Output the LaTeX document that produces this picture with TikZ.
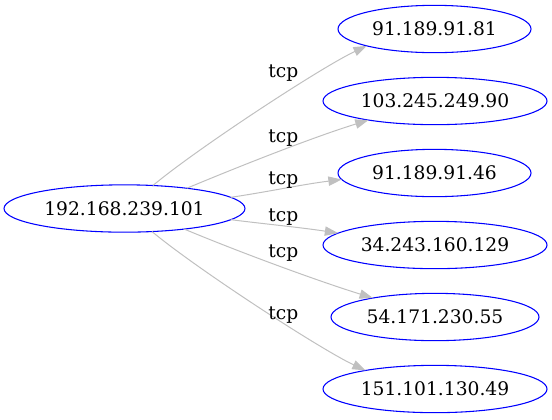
\documentclass[tikz,border=0pt]{standalone}
\usepackage{fontspec}
\setmainfont{DejaVu Serif}
\usetikzlibrary{shapes.geometric,arrows.meta}

\begin{document}
\begin{tikzpicture}[x=0.75pt,y=-0.75pt,
    host/.style={draw=blue,line width=0.8pt,ellipse,inner sep=0pt,outer sep=0pt,
        minimum height=35.5pt,font=\fontsize{14pt}{16pt}\selectfont},
    conn/.style={draw={rgb,255:red,192;green,192;blue,192},line width=0.75pt,
        -{Triangle[length=10pt,width=7pt]}},
    proto/.style={anchor=base,inner sep=0pt,font=\fontsize{14pt}{16pt}\selectfont}]
        \useasboundingbox (0,0) rectangle (552,419);
        % Draw hosts
        \node[host][minimum width=180.75pt] (src) at (124.5,208.5) {192.168.239.101};
        \node[host][minimum width=144.75pt] (d1) at (434.5,29) {91.189.91.81};
        \node[host][minimum width=168pt] (d2) at (435,101) {103.245.249.90};
        \node[host][minimum width=144.75pt] (d3) at (434.5,173) {91.189.91.46};
        \node[host][minimum width=168pt] (d4) at (435,245) {34.243.160.129};
        \node[host][minimum width=156pt] (d5) at (435,317) {54.171.230.55};
        \node[host][minimum width=168pt] (d6) at (435,389) {151.101.130.49};

        % Draw connections
        \draw[conn] (src.39.5) .. controls +(45,-37.5) and +(-45,21) .. (d1.194.7);
        \draw[conn] (src.18.5) .. controls +(55,-23) and +(-55,17) .. (d2.196.7);
        \draw[conn] (src.6.1) .. controls +(40,-6) and +(-40,5) .. (d3.184.75);
        \draw[conn] (src.354.2) .. controls +(40,5) and +(-40,-6) .. (d4.173.8);
        \draw[conn] (src.341.5) .. controls +(55,23) and +(-55,-17) .. (d5.163.1);
        \draw[conn] (src.320.5) .. controls +(45,37.5) and +(-45,-21) .. (d6.165);

        % Add labels
        \node[proto] (l1) at (283.3,77.3) {tcp};
        \node[proto] (l2) at (283.3,142.7) {tcp};
        \node[proto] (l3) at (283.3,184) {tcp};
        \node[proto] (l4) at (283.3,221.7) {tcp};
        \node[proto] (l5) at (283.3,257.7) {tcp};
        \node[proto] (l6) at (283.3,319.3) {tcp};
    \end{tikzpicture}
\end{document}
